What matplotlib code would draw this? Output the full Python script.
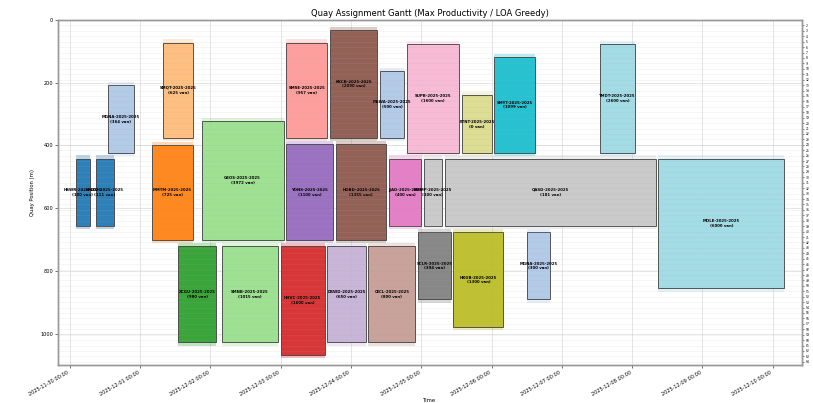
import matplotlib
matplotlib.use("Agg")
import matplotlib.pyplot as plt
import matplotlib.dates as mdates
from matplotlib.patches import Rectangle
import numpy as np
import pandas as pd

# berth plan: one row per vessel call
vessels = ["HSWR", "HMZD", "MGNA", "MMTM", "SMQT", "XCGU", "GEOS", "SMNB",
           "HHVC", "SMSE", "YONS", "DSWD", "KKCB", "HOBD", "OICL", "MSWA",
           "JJAD", "SUPB", "SCLR", "KMMP", "QASD", "HXGB", "ETNT", "SMYT",
           "MGNA", "TMDT", "MOLE"]
etb = ["2025-11-30 02:00", "2025-11-30 09:00", "2025-11-30 13:00", "2025-12-01 04:00",
       "2025-12-01 08:00", "2025-12-01 13:00", "2025-12-01 21:00", "2025-12-02 04:00",
       "2025-12-03 00:00", "2025-12-03 02:00", "2025-12-03 02:00", "2025-12-03 16:00",
       "2025-12-03 17:00", "2025-12-03 19:00", "2025-12-04 06:00", "2025-12-04 10:00",
       "2025-12-04 13:00", "2025-12-04 19:00", "2025-12-04 23:00", "2025-12-05 01:00",
       "2025-12-05 08:00", "2025-12-05 11:00", "2025-12-05 14:00", "2025-12-06 01:00",
       "2025-12-06 12:00", "2025-12-07 13:00", "2025-12-08 09:00"]
etd = ["2025-11-30 07:00", "2025-11-30 15:00", "2025-11-30 22:00", "2025-12-01 18:00",
       "2025-12-01 18:00", "2025-12-02 02:00", "2025-12-03 01:00", "2025-12-02 23:00",
       "2025-12-03 15:00", "2025-12-03 16:00", "2025-12-03 18:00", "2025-12-04 05:00",
       "2025-12-04 09:00", "2025-12-04 12:00", "2025-12-04 22:00", "2025-12-04 18:00",
       "2025-12-05 00:00", "2025-12-05 13:00", "2025-12-05 10:00", "2025-12-05 07:00",
       "2025-12-08 08:00", "2025-12-06 04:00", "2025-12-06 00:00", "2025-12-06 15:00",
       "2025-12-06 20:00", "2025-12-08 01:00", "2025-12-10 04:00"]
pos_from = [442, 442, 208, 398, 72, 721, 321, 721,
            721, 72, 395, 721, 32, 395, 721, 162,
            442, 77, 677, 442, 442, 677, 240, 118,
            677, 76, 442]
pos_to = [656, 656, 424, 702, 376, 1028, 702, 1028,
          1068, 376, 702, 1028, 376, 702, 1028, 376,
          656, 424, 891, 656, 656, 980, 424, 424,
          891, 424, 856]
vans = [100, 111, 364, 725, 625, 980, 3972, 1015,
        1600, 957, 1100, 650, 2090, 1355, 800, 500,
        400, 1600, 394, 100, 181, 1300, 0, 1099,
        300, 2600, 6000]
colors = ["#1f77b4", "#1f77b4", "#aec7e8", "#ff7f0e", "#ffbb78", "#2ca02c", "#98df8a", "#98df8a",
          "#d62728", "#ff9896", "#9467bd", "#c5b0d5", "#8c564b", "#8c564b", "#c49c94", "#aec7e8",
          "#e377c2", "#f7b6d2", "#7f7f7f", "#c7c7c7", "#c7c7c7", "#bcbd22", "#dbdb8d", "#17becf",
          "#aec7e8", "#9edae5", "#9edae5"]

CLEARANCE = 10      # m, shaded safety margin around each vessel
QUAY_LENGTH = 1100
BITT_SPACING = 17.3
bitt_no = np.arange(2, 65)

df = pd.DataFrame({"vessel": vessels, "etb": pd.to_datetime(etb), "etd": pd.to_datetime(etd),
                   "pos_from": pos_from, "pos_to": pos_to, "vans": vans, "color": colors})

fig = plt.figure(figsize=(8.13, 4.03), dpi=100)
ax = fig.add_axes([0.0713, 0.0943, 0.9152, 0.8561])

for _, r in df.iterrows():
    x0 = mdates.date2num(r.etb)
    w = mdates.date2num(r.etd) - x0
    h = r.pos_to - r.pos_from
    ax.add_patch(Rectangle((x0, r.pos_from - CLEARANCE), w, h + 2 * CLEARANCE,
                           facecolor=r.color, edgecolor="none", alpha=0.3, zorder=2))
    ax.add_patch(Rectangle((x0, r.pos_from), w, h, facecolor=r.color, edgecolor="#444444",
                           linewidth=0.7, alpha=0.9, zorder=3))
    ax.text(x0 + w / 2, r.pos_from + h / 2, f"{r.vessel}-2025-2025\n({r.vans} van)",
            ha="center", va="center", fontsize=2.8, fontweight="bold", zorder=4)

t_min = mdates.date2num(df.etb.min() - pd.Timedelta(hours=6))
t_max = mdates.date2num(df.etd.max() + pd.Timedelta(hours=6))
ax.set_xlim(t_min, t_max)
ax.set_ylim(QUAY_LENGTH, 0)
ax.yaxis.set_major_locator(plt.MultipleLocator(200))
ax.xaxis.set_major_locator(mdates.DayLocator())
ax.xaxis.set_major_formatter(mdates.DateFormatter("%Y-%m-%d %H:%M"))
plt.setp(ax.get_xticklabels(), rotation=30, ha="right")
ax.tick_params(labelsize=3.6, length=2, width=0.6, color="#555555", pad=1.5)
ax.grid(True, color="#cccccc", linewidth=0.6, alpha=0.6, zorder=0)
ax.set_axisbelow(True)
ax.set_xlabel("Time", fontsize=3.8, labelpad=1)
ax.set_ylabel("Quay Position (m)", fontsize=3.8, labelpad=4)
ax.set_title("Quay Assignment Gantt (Max Productivity / LOA Greedy)", fontsize=6, pad=3)

# bitt numbers on the right side
ax2 = ax.twinx()
ax2.set_ylim(QUAY_LENGTH, 0)
ax2.set_yticks((bitt_no - 1) * BITT_SPACING)
ax2.set_yticklabels([str(b) for b in bitt_no])
ax2.tick_params(labelsize=2.2, length=1.5, width=0.5, pad=1, color="#555555")
ax2.grid(True, axis="y", color="#aaaaaa", linewidth=0.4, alpha=0.2)
ax2.set_ylabel("Bitt", fontsize=3.8, labelpad=8)

for a in (ax, ax2):
    for s in a.spines.values():
        s.set_color("#999999")
        s.set_linewidth(1.0)

fig.savefig("out.png", dpi=100)
